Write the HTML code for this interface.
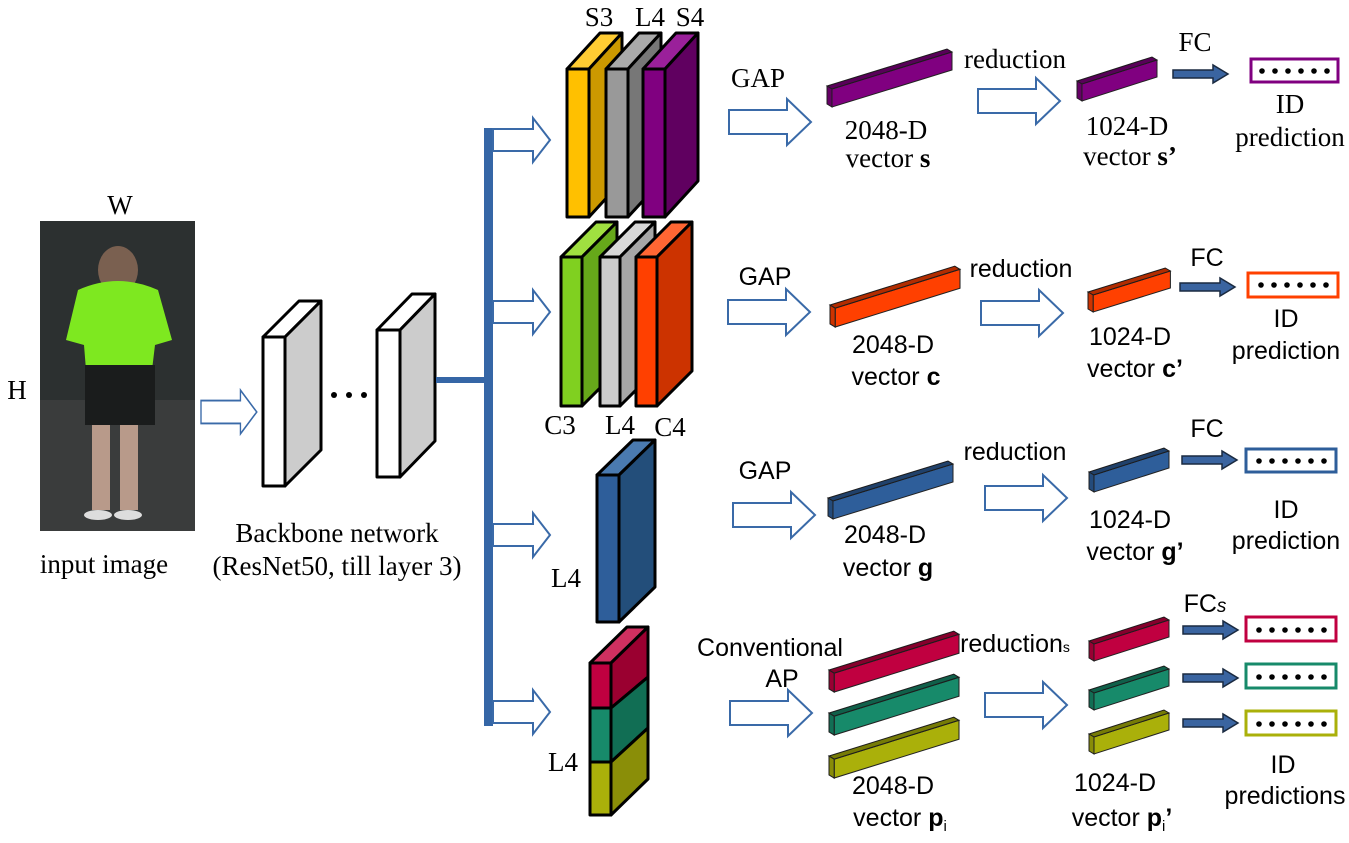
<!DOCTYPE html>
<html><head><meta charset="utf-8"><style>
html,body{margin:0;padding:0;background:#fff;}
svg{display:block;}
.s{font-family:"Liberation Serif",serif;font-size:27px;fill:#000;}
.a{font-family:"Liberation Sans",sans-serif;font-size:25px;fill:#000;}
.b{stroke:#000;stroke-width:3;stroke-linejoin:round;}
</style></head><body>
<svg width="1349" height="843" viewBox="0 0 1349 843" xmlns="http://www.w3.org/2000/svg">
<defs>
<polygon id="ha" points="0,-12 58,-12 58,-23 82,0 58,23 58,12 0,12" fill="#fff" stroke="#3a6aa8" stroke-width="2"/>
<polygon id="sa" points="0,-11 40,-11 40,-22 57,0 40,22 40,11 0,11" fill="#fff" stroke="#3a6aa8" stroke-width="2"/>
<polygon id="fa" points="0,-4 40,-4 40,-9 55,0 40,9 40,4 0,4" fill="#3a64a0" stroke="#1a2a40" stroke-width="1.5"/>
<g id="lb">
<polygon points="5,3 125,-34 125,-16 5,21" stroke="#222" stroke-width="1"/>
<polygon points="0,0 120,-37 125,-34 5,3" stroke="#222" stroke-width="1"/>
<polygon points="0,0 120,-37 125,-34 5,3" fill="#000" opacity="0.3"/>
<polygon points="0,0 5,3 5,21 0,18" stroke="#222" stroke-width="1"/>
<polygon points="0,0 5,3 5,21 0,18" fill="#000" opacity="0.2"/>
</g>
<g id="sb">
<polygon points="5,3 80,-21 80,-4 5,20" stroke="#222" stroke-width="1"/>
<polygon points="0,0 75,-24 80,-21 5,3" stroke="#222" stroke-width="1"/>
<polygon points="0,0 75,-24 80,-21 5,3" fill="#000" opacity="0.3"/>
<polygon points="0,0 5,3 5,20 0,17" stroke="#222" stroke-width="1"/>
<polygon points="0,0 5,3 5,20 0,17" fill="#000" opacity="0.2"/>
</g>
<g id="dots" fill="#000"><circle cx="11" cy="13" r="2.8"/><circle cx="24" cy="13" r="2.8"/><circle cx="37" cy="13" r="2.8"/><circle cx="50" cy="13" r="2.8"/><circle cx="63" cy="13" r="2.8"/><circle cx="76" cy="13" r="2.8"/></g>
</defs>

<!-- input image -->
<text class="s" x="120" y="214" text-anchor="middle">W</text>
<text class="s" x="17" y="399" text-anchor="middle">H</text>
<rect x="40" y="221" width="155" height="310" fill="#2c3030"/>
<rect x="40" y="400" width="155" height="131" fill="#3a3c3c"/>
<ellipse cx="118" cy="270" rx="20" ry="24" fill="#7a6050"/>
<path d="M78 290 Q118 272 158 290 L172 340 L155 345 L152 370 L86 370 L84 345 L66 340 Z" fill="#7ee820"/>
<rect x="85" y="365" width="70" height="60" fill="#1a1c1c"/>
<rect x="92" y="425" width="18" height="85" fill="#b89a8a"/>
<rect x="120" y="425" width="18" height="85" fill="#b89a8a"/>
<ellipse cx="98" cy="515" rx="14" ry="5" fill="#ddd"/>
<ellipse cx="128" cy="515" rx="14" ry="5" fill="#ddd"/>
<text class="s" x="104" y="573" text-anchor="middle">input image</text>

<use href="#ha" transform="translate(201,412) scale(0.68,0.95)"/>

<!-- backbone -->
<g class="b">
<rect x="263" y="337" width="22" height="149" fill="#fff"/>
<polygon points="263,337 299,301 321,301 285,337" fill="#fff"/>
<polygon points="285,337 321,301 321,450 285,486" fill="#ccc"/>
<rect x="377" y="330" width="23" height="147" fill="#fff"/>
<polygon points="377,330 412,294 435,294 400,330" fill="#fff"/>
<polygon points="400,330 435,294 435,441 400,477" fill="#ccc"/>
</g>
<circle cx="334" cy="395" r="3" fill="#000"/><circle cx="349" cy="395" r="3" fill="#000"/><circle cx="364" cy="395" r="3" fill="#000"/>
<text class="s" x="337" y="542" text-anchor="middle">Backbone network</text>
<text class="s" x="337" y="575" text-anchor="middle">(ResNet50, till layer 3)</text>

<!-- blue bus -->
<rect x="436" y="377" width="52" height="6" fill="#3566a6"/>
<rect x="484" y="128" width="9" height="598" fill="#3566a6"/>
<use href="#sa" transform="translate(493,140)"/>
<use href="#sa" transform="translate(493,312)"/>
<use href="#sa" transform="translate(493,535)"/>
<use href="#sa" transform="translate(493,712)"/>

<!-- stack 1 -->
<g class="b">
<rect x="567" y="69" width="22" height="148" fill="#ffc000"/>
<polygon points="567,69 600,33 622,33 589,69" fill="#ffcc33"/>
<polygon points="589,69 622,33 622,181 589,217" fill="#cc9900"/>
<rect x="606" y="69" width="22" height="148" fill="#999"/>
<polygon points="606,69 639,33 661,33 628,69" fill="#aaa"/>
<polygon points="628,69 661,33 661,181 628,217" fill="#777"/>
<rect x="643" y="69" width="22" height="148" fill="#800080"/>
<polygon points="643,69 676,33 698,33 665,69" fill="#9a209a"/>
<polygon points="665,69 698,33 698,181 665,217" fill="#600060"/>
</g>
<text class="s" x="599" y="26" text-anchor="middle">S3</text>
<text class="s" x="650" y="26" text-anchor="middle">L4</text>
<text class="s" x="690" y="26" text-anchor="middle">S4</text>

<!-- stack 2 -->
<g class="b">
<rect x="561" y="257" width="21" height="149" fill="#80d020"/>
<polygon points="561,257 596,222 617,222 582,257" fill="#a0e040"/>
<polygon points="582,257 617,222 617,371 582,406" fill="#66a81a"/>
<rect x="600" y="257" width="20" height="149" fill="#ccc"/>
<polygon points="600,257 635,222 655,222 620,257" fill="#d8d8d8"/>
<polygon points="620,257 655,222 655,371 620,406" fill="#a6a6a6"/>
<rect x="636" y="257" width="21" height="149" fill="#ff4000"/>
<polygon points="636,257 671,222 692,222 657,257" fill="#ff6633"/>
<polygon points="657,257 692,222 692,371 657,406" fill="#cc3300"/>
</g>
<text class="s" x="560" y="434" text-anchor="middle">C3</text>
<text class="s" x="620" y="434" text-anchor="middle">L4</text>
<text class="s" x="670" y="436" text-anchor="middle">C4</text>

<!-- stack 3 -->
<g class="b">
<rect x="597" y="475" width="22" height="147" fill="#2e5e9a"/>
<polygon points="597,475 633,440 655,440 619,475" fill="#4a7ab0"/>
<polygon points="619,475 655,440 655,587 619,622" fill="#234e7a"/>
</g>
<text class="s" x="566" y="587" text-anchor="middle">L4</text>

<!-- stack 4 -->
<g class="b">
<polygon points="590,663 627,627 648,627 611,663" fill="#d03060"/>
<rect x="590" y="663" width="21" height="45" fill="#c00040"/>
<rect x="590" y="708" width="21" height="54" fill="#178a6a"/>
<rect x="590" y="762" width="21" height="53" fill="#aab00a"/>
<polygon points="611,663 648,627 648,677 611,708" fill="#9a0030"/>
<polygon points="611,708 648,677 648,728 611,762" fill="#116e54"/>
<polygon points="611,762 648,728 648,779 611,815" fill="#8a8e08"/>
</g>
<text class="s" x="563" y="771" text-anchor="middle">L4</text>

<!-- row 1 -->
<text class="s" x="758" y="87" text-anchor="middle">GAP</text>
<use href="#ha" transform="translate(729,122)"/>
<use href="#lb" fill="#800080" transform="translate(827,86)"/>
<text class="s" x="886" y="139" text-anchor="middle">2048-D</text>
<text class="s" x="888" y="167" text-anchor="middle">vector <tspan font-weight="bold">s</tspan></text>
<text class="s" x="1015" y="68" text-anchor="middle">reduction</text>
<use href="#ha" transform="translate(978,101)"/>
<use href="#sb" fill="#800080" transform="translate(1077,81)"/>
<text class="s" x="1127" y="135" text-anchor="middle">1024-D</text>
<text class="s" x="1130" y="165" text-anchor="middle">vector <tspan font-weight="bold">s’</tspan></text>
<text class="s" x="1195" y="51" text-anchor="middle">FC</text>
<use href="#fa" transform="translate(1173,74)"/>
<rect x="1251" y="59" width="87" height="23" fill="#fff" stroke="#800080" stroke-width="3"/>
<use href="#dots" transform="translate(1251,58)"/>
<text class="s" x="1290" y="113" text-anchor="middle">ID</text>
<text class="s" x="1290" y="146" text-anchor="middle">prediction</text>

<!-- row 2 -->
<text class="a" x="765" y="285" text-anchor="middle">GAP</text>
<use href="#ha" transform="translate(728,312)"/>
<use href="#lb" fill="#ff4000" transform="translate(830,305) scale(1.04,1.05)"/>
<text class="a" x="893" y="353" text-anchor="middle">2048-D</text>
<text class="a" x="896" y="385" text-anchor="middle">vector <tspan font-weight="bold">c</tspan></text>
<text class="a" x="1021" y="277" text-anchor="middle">reduction</text>
<use href="#ha" transform="translate(981,313)"/>
<use href="#sb" fill="#ff4000" transform="translate(1088,292) scale(1.03,1)"/>
<text class="a" x="1130" y="345" text-anchor="middle">1024-D</text>
<text class="a" x="1135" y="377" text-anchor="middle">vector <tspan font-weight="bold">c’</tspan></text>
<text class="a" x="1207" y="266" text-anchor="middle">FC</text>
<use href="#fa" transform="translate(1180,287)"/>
<rect x="1248" y="273" width="90" height="24" fill="#fff" stroke="#ff4000" stroke-width="3"/>
<use href="#dots" transform="translate(1250,272)"/>
<text class="a" x="1286" y="327" text-anchor="middle">ID</text>
<text class="a" x="1286" y="359" text-anchor="middle">prediction</text>

<!-- row 3 -->
<text class="a" x="765" y="479" text-anchor="middle">GAP</text>
<use href="#ha" transform="translate(733,515)"/>
<use href="#lb" fill="#2e5e9a" transform="translate(828,498)"/>
<text class="a" x="885" y="543" text-anchor="middle">2048-D</text>
<text class="a" x="888" y="576" text-anchor="middle">vector <tspan font-weight="bold">g</tspan></text>
<text class="a" x="1015" y="460" text-anchor="middle">reduction</text>
<use href="#ha" transform="translate(985,498)"/>
<use href="#sb" fill="#2e5e9a" transform="translate(1089,472)"/>
<text class="a" x="1130" y="528" text-anchor="middle">1024-D</text>
<text class="a" x="1135" y="560" text-anchor="middle">vector <tspan font-weight="bold">g’</tspan></text>
<text class="a" x="1207" y="437" text-anchor="middle">FC</text>
<use href="#fa" transform="translate(1182,460)"/>
<rect x="1246" y="449" width="90" height="23" fill="#fff" stroke="#2e5e9a" stroke-width="3"/>
<use href="#dots" transform="translate(1248,448)"/>
<text class="a" x="1286" y="518" text-anchor="middle">ID</text>
<text class="a" x="1286" y="549" text-anchor="middle">prediction</text>

<!-- row 4 -->
<text class="a" x="770" y="656" text-anchor="middle">Conventional</text>
<text class="a" x="782" y="687" text-anchor="middle">AP</text>
<use href="#ha" transform="translate(730,713)"/>
<use href="#lb" fill="#c00040" transform="translate(829,670) scale(1.04,1.05)"/>
<use href="#lb" fill="#178a6a" transform="translate(829,713) scale(1.04,1.05)"/>
<use href="#lb" fill="#aab00a" transform="translate(829,756) scale(1.04,1.05)"/>
<text class="a" x="893" y="794" text-anchor="middle">2048-D</text>
<text class="a" x="900" y="826" text-anchor="middle">vector <tspan font-weight="bold">p</tspan><tspan font-size="15" dy="5">i</tspan></text>
<text class="a" x="1015" y="652" text-anchor="middle">reduction<tspan font-size="14">s</tspan></text>
<use href="#ha" transform="translate(985,705)"/>
<use href="#sb" fill="#c00040" transform="translate(1089,641)"/>
<use href="#sb" fill="#178a6a" transform="translate(1089,690)"/>
<use href="#sb" fill="#aab00a" transform="translate(1089,734)"/>
<text class="a" x="1115" y="791" text-anchor="middle">1024-D</text>
<text class="a" x="1122" y="826" text-anchor="middle">vector <tspan font-weight="bold">p</tspan><tspan font-size="15" dy="5">i</tspan><tspan dy="-5" font-weight="bold">’</tspan></text>
<text class="a" x="1205" y="612" text-anchor="middle">FC<tspan font-style="italic" font-size="19">s</tspan></text>
<use href="#fa" transform="translate(1183,630)"/>
<use href="#fa" transform="translate(1183,678)"/>
<use href="#fa" transform="translate(1183,723)"/>
<rect x="1246" y="617" width="90" height="24" fill="#fff" stroke="#c00040" stroke-width="3"/>
<use href="#dots" transform="translate(1248,617)"/>
<rect x="1246" y="664" width="90" height="24" fill="#fff" stroke="#178a6a" stroke-width="3"/>
<use href="#dots" transform="translate(1248,664)"/>
<rect x="1246" y="711" width="90" height="24" fill="#fff" stroke="#aab00a" stroke-width="3"/>
<use href="#dots" transform="translate(1248,711)"/>
<text class="a" x="1283" y="773" text-anchor="middle">ID</text>
<text class="a" x="1285" y="804" text-anchor="middle">predictions</text>
</svg>
</body></html>
